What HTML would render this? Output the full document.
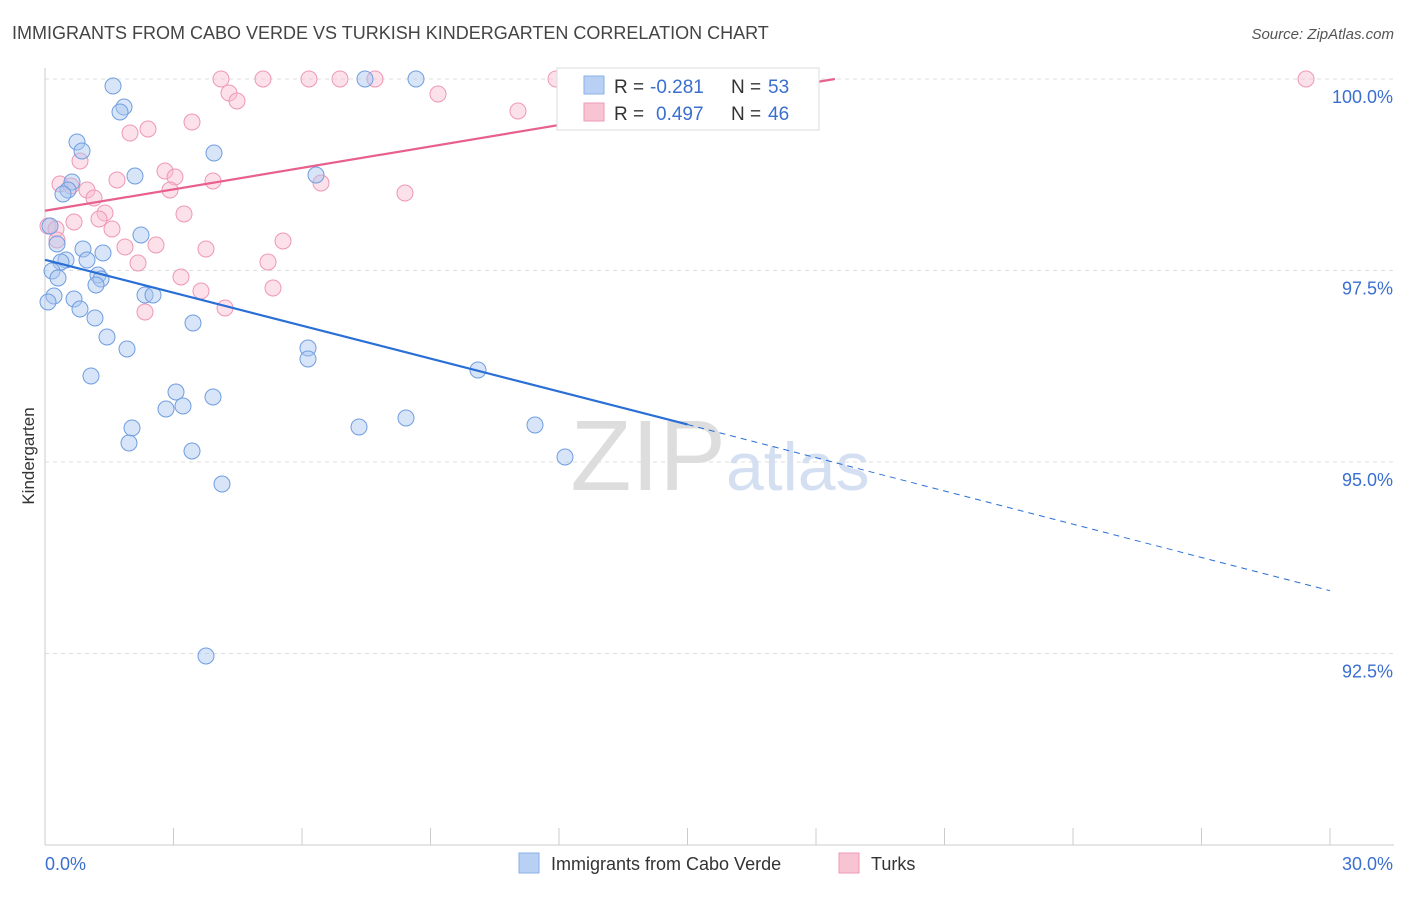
<!DOCTYPE html>
<html><head><meta charset="utf-8"><style>
body{margin:0;background:#fff;font-family:"Liberation Sans",sans-serif;}
svg text{font-family:"Liberation Sans",sans-serif;}
</style></head><body>
<svg id="c" width="1406" height="892">
<text x="12" y="39" font-size="18" fill="#444">IMMIGRANTS FROM CABO VERDE VS TURKISH KINDERGARTEN CORRELATION CHART</text>
<text x="1394" y="39" font-size="15" fill="#555" text-anchor="end" font-style="italic">Source: ZipAtlas.com</text>
<text x="34" y="456" font-size="17" fill="#333" text-anchor="middle" transform="rotate(-90 34 456)">Kindergarten</text>
<text x="720" y="490" font-size="100" fill="#ddd" text-anchor="middle" font-family="Liberation Serif">ZIP<tspan fill="#d4e0f2" font-family="Liberation Sans" font-size="68">atlas</tspan></text>
<g id="grid"></g><g id="pts"></g><g id="lines"></g>
<g>
<rect x="557" y="68" width="262" height="62" fill="#fff" stroke="#ddd"/>
<rect x="584" y="76" width="20" height="18" fill="#b8d0f4" stroke="#8ab0e8"/>
<text x="614" y="93" font-size="19" fill="#333">R =</text>
<text x="650" y="93" font-size="19" fill="#3a6fd0">-0.281</text>
<text x="731" y="93" font-size="19" fill="#333">N =</text>
<text x="768" y="93" font-size="19" fill="#3a6fd0">53</text>
<rect x="584" y="103" width="20" height="18" fill="#f8c4d4" stroke="#ee9ab4"/>
<text x="614" y="120" font-size="19" fill="#333">R =</text>
<text x="656" y="120" font-size="19" fill="#3a6fd0">0.497</text>
<text x="731" y="120" font-size="19" fill="#333">N =</text>
<text x="768" y="120" font-size="19" fill="#3a6fd0">46</text>
</g>
<g>
<rect x="519" y="853" width="20" height="20" fill="#b8d0f4" stroke="#8ab0e8"/>
<text x="551" y="870" font-size="18" fill="#333">Immigrants from Cabo Verde</text>
<rect x="839" y="853" width="20" height="20" fill="#f8c4d4" stroke="#ee9ab4"/>
<text x="871" y="870" font-size="18" fill="#333">Turks</text>
</g>
</svg>
<script>
const blueX=[113,124,120,77,82,214,135,316,72,68,63,141,57,83,103,66,87,61,52,98,101,58,96,54,74,145,153,48,80,95,193,107,127,308,308,91,478,176,213,183,166,406,359,132,535,129,192,565,222,206,365,416,50];
const blueY=[86,107,112,142,151,153,176,175,182,190,194,235,244,249,253,260,260,262,271,275,279,278,285,296,299,295,295,302,309,318,323,337,349,348,359,376,370,392,397,406,409,418,427,428,425,443,451,457,484,656,79,79,226];
const pinkX=[221,263,309,340,375,556,567,571,1306,229,237,438,518,192,148,130,80,165,175,213,321,117,60,71,87,170,94,405,105,184,99,74,48,56,112,57,283,125,156,206,138,268,181,273,201,145,225];
const pinkY=[79,79,79,79,79,79,79,79,79,93,101,94,111,122,129,133,161,171,177,181,183,180,184,186,190,190,198,193,213,214,219,222,226,229,229,240,241,247,245,249,263,262,277,288,291,312,308];
const xTicks=[0,30];const yTicks=[100,97.5,95,92.5];
const cxToV=p=>(p-45)/1285*30, cyToV=p=>100-(p-79)/76.6;
const blue=blueX.map((x,i)=>[cxToV(x),cyToV(blueY[i])]);
const pink=pinkX.map((x,i)=>[cxToV(x),cyToV(pinkY[i])]);
const X=v=>45+v/30*1285, Y=v=>79+(100-v)*76.6;
const NS="http://www.w3.org/2000/svg";
function mk(t,a,p){const e=document.createElementNS(NS,t);for(const k in a)e.setAttribute(k,a[k]);p.appendChild(e);return e;}
const g=document.getElementById('grid');
mk('line',{x1:45,y1:68,x2:45,y2:845,stroke:'#ccc'},g);
mk('line',{x1:45,y1:845,x2:1394,y2:845,stroke:'#ccc'},g);
for(let i=1;i<=10;i++){const x=45+i*128.5;mk('line',{x1:x,y1:828,x2:x,y2:845,stroke:'#ccc'},g);}
yTicks.forEach(v=>{const l=mk('line',{x1:45,y1:Y(v),x2:1394,y2:Y(v),stroke:'#ddd','stroke-dasharray':'4,4'},g);


const t=mk('text',{x:1393,y:Y(v)+24,'font-size':18,fill:'#3a6fd0','text-anchor':'end'},g);t.textContent=v.toFixed(1)+'%';

});
xTicks.forEach((v,i)=>{const t=mk('text',{x:i?1393:45,y:870,'font-size':18,fill:'#3a6fd0','text-anchor':i?'end':'start'},g);t.textContent=v.toFixed(1)+'%';

});
const pg=document.getElementById('pts');
function dots(arr,f,s,n){arr.forEach(d=>{const c=mk('circle',{cx:X(d[0]),cy:Y(d[1]),r:8,fill:f,'fill-opacity':0.45,stroke:s,'stroke-width':1},pg);

});}
dots(pink,'#f8bcd0','#ee98b4','turks-point');
dots(blue,'#a8c6f0','#6f9ee0','cabo-verde-point');
const lg=document.getElementById('lines');
const bl=mk('line',{x1:X(0),y1:Y(97.64),x2:X(15),y2:Y(95.49),stroke:'#2a6fd6','stroke-width':2.2},lg);


const bd=mk('line',{x1:X(15),y1:Y(95.49),x2:X(30),y2:Y(93.32),stroke:'#2a6fd6','stroke-width':1,'stroke-dasharray':'6,5'},lg);


const pl=mk('line',{x1:X(0),y1:Y(98.28),x2:X(18.44),y2:Y(100),stroke:'#e8608c','stroke-width':2.2},lg);


</script>
</body></html>
